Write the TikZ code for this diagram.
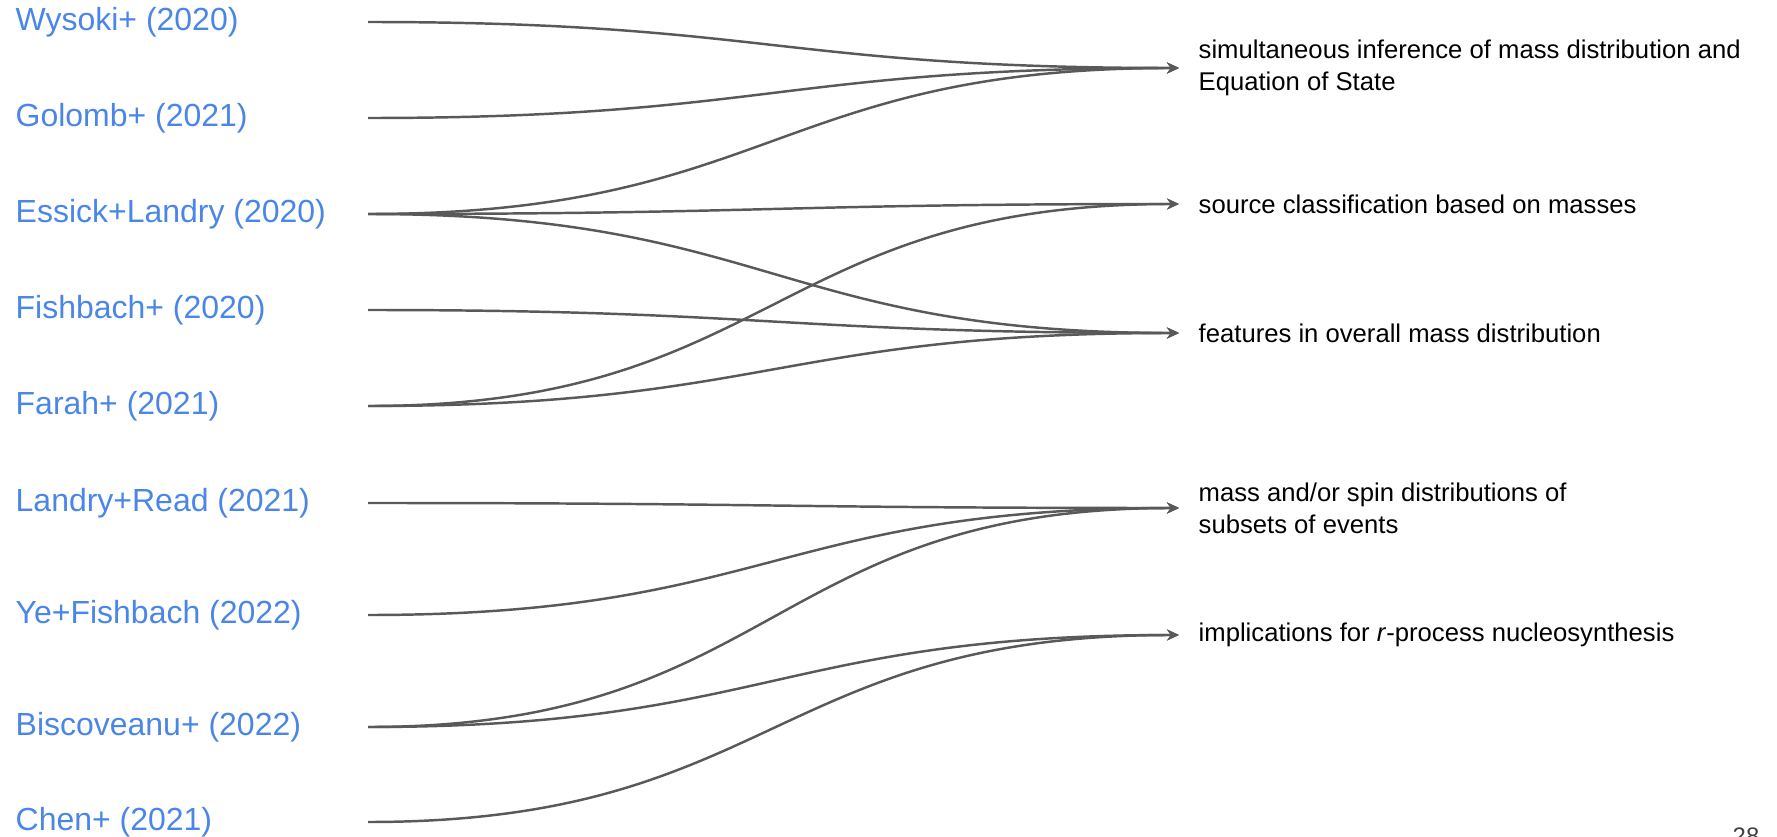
\documentclass[tikz,border=0pt]{standalone}
\usepackage{fontspec}
\setmainfont{Liberation Sans}
\usetikzlibrary{arrows.meta}
\definecolor{paperblue}{HTML}{4A86E8}
\definecolor{linkgray}{HTML}{595959}
\tikzset{
  paper/.style={anchor=west, inner sep=0pt, text=paperblue,
    font=\fontsize{9.1}{11}\selectfont},
  topic/.style={anchor=west, inner xsep=0.19cm, inner ysep=0pt,
    align=left, font=\fontsize{7.3}{9.2}\selectfont},
  link/.style={draw=linkgray, line width=0.7pt,
    -{Stealth[length=1.2mm,width=1.1mm]},
    out=0, in=180, looseness=1.25}
}
\begin{document}
\begin{tikzpicture}
  \useasboundingbox (0,0) rectangle (17.77,-8.37);

  % papers
  \node[paper] (wysoki) at (0.15,-0.22) {Wysoki+ (2020)};
  \node[paper] (golomb) at (0.15,-1.18) {Golomb+ (2021)};
  \node[paper] (essick) at (0.15,-2.14) {Essick+Landry (2020)};
  \node[paper] (fishbach) at (0.15,-3.10) {Fishbach+ (2020)};
  \node[paper] (farah) at (0.15,-4.06) {Farah+ (2021)};
  \node[paper] (landry) at (0.15,-5.03) {Landry+Read (2021)};
  \node[paper] (ye) at (0.15,-6.15) {Ye+Fishbach (2022)};
  \node[paper] (biscoveanu) at (0.15,-7.27) {Biscoveanu+ (2022)};
  \node[paper] (chen) at (0.15,-8.22) {Chen+ (2021)};

  \coordinate (src) at (3.68,0);

  % topics
  \node[topic] (eos) at (11.79,-0.68)
    {simultaneous inference of mass distribution and\\Equation of State};
  \node[topic] (classif) at (11.79,-2.04) {source classification based on masses};
  \node[topic] (features) at (11.79,-3.33) {features in overall mass distribution};
  \node[topic] (subsets) at (11.79,-5.08)
    {mass and/or spin distributions of\\subsets of events};
  \node[topic] (rproc) at (11.79,-6.35)
    {implications for \textit{r}-process nucleosynthesis};

  % page number
  \node[anchor=base west, inner sep=0pt, text=black!75,
    font=\fontsize{6.8}{8}\selectfont] (page) at (17.32,-8.44) {28};

  % links
  \draw[link] (wysoki -| src) to (eos.west);
  \draw[link] (golomb -| src) to (eos.west);
  \draw[link] (essick -| src) to (eos.west);
  \draw[link] (essick -| src) to (classif.west);
  \draw[link] (essick -| src) to (features.west);
  \draw[link] (fishbach -| src) to (features.west);
  \draw[link] (farah -| src) to (classif.west);
  \draw[link] (farah -| src) to (features.west);
  \draw[link] (landry -| src) to (subsets.west);
  \draw[link] (ye -| src) to (subsets.west);
  \draw[link] (biscoveanu -| src) to (subsets.west);
  \draw[link] (biscoveanu -| src) to (rproc.west);
  \draw[link] (chen -| src) to (rproc.west);
\end{tikzpicture}
\end{document}
